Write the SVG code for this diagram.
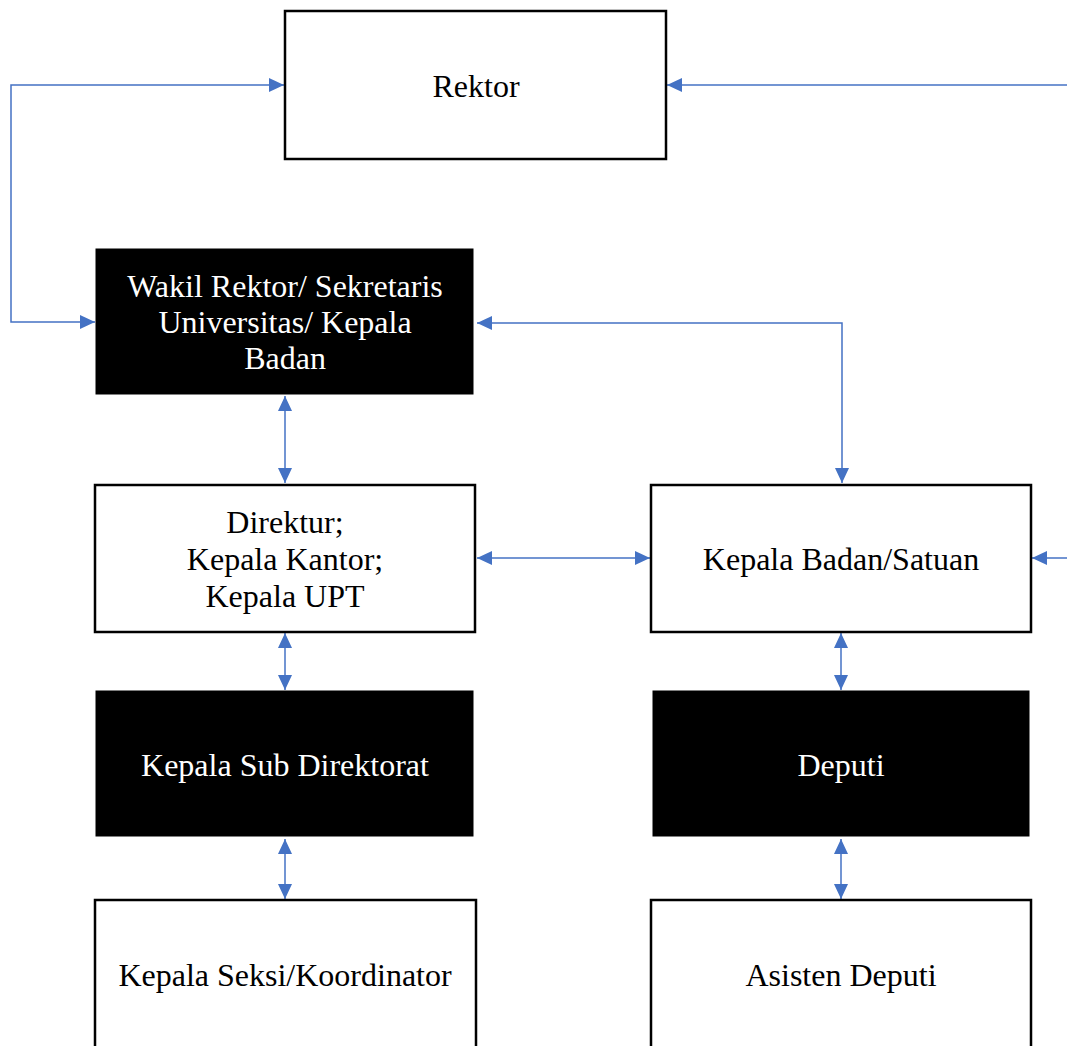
<svg xmlns="http://www.w3.org/2000/svg" width="1067" height="1046" viewBox="0 0 1067 1046">
<style>
.box{fill:#fff;stroke:#000;stroke-width:2.5}
.dark{fill:#000;stroke:#000;stroke-width:1}
.t{font-family:"Liberation Serif","Times New Roman",serif;font-size:32px;text-anchor:middle;fill:#000}
.tw{font-family:"Liberation Serif","Times New Roman",serif;font-size:32px;text-anchor:middle;fill:#fff}
.c{fill:none;stroke:#4472C4;stroke-width:1.5}
</style>
<defs>
<marker id="ah" markerWidth="15" markerHeight="14" refX="15" refY="7" orient="auto-start-reverse" markerUnits="userSpaceOnUse">
<path d="M0,0 L15,7 L0,14 Z" fill="#4472C4"/>
</marker>
</defs>
<rect width="1067" height="1046" fill="#fff"/>
<g id="connectors">
<path class="c" d="M284,85 H11 V322 H95" marker-start="url(#ah)" marker-end="url(#ah)"/>
<path class="c" d="M1067,85 H667" marker-end="url(#ah)"/>
<path class="c" d="M477,323 H842 V483" marker-start="url(#ah)" marker-end="url(#ah)"/>
<path class="c" d="M477,558 H650" marker-start="url(#ah)" marker-end="url(#ah)"/>
<path class="c" d="M1067,558 H1032" marker-end="url(#ah)"/>
<path class="c" d="M285,396 V483" marker-start="url(#ah)" marker-end="url(#ah)"/>
<path class="c" d="M285,633 V690" marker-start="url(#ah)" marker-end="url(#ah)"/>
<path class="c" d="M285,839 V899" marker-start="url(#ah)" marker-end="url(#ah)"/>
<path class="c" d="M841,633 V690" marker-start="url(#ah)" marker-end="url(#ah)"/>
<path class="c" d="M841,839 V899" marker-start="url(#ah)" marker-end="url(#ah)"/>
</g>
<g id="rektor">
<rect class="box" x="285" y="11" width="381" height="148"/>
<text class="t" x="476" y="97">Rektor</text>
</g>
<g id="wakil-rektor">
<rect class="dark" x="96" y="249" width="377" height="145"/>
<text class="tw" x="285" y="297">Wakil Rektor/ Sekretaris</text>
<text class="tw" x="285" y="333">Universitas/ Kepala</text>
<text class="tw" x="285" y="369">Badan</text>
</g>
<g id="direktur">
<rect class="box" x="95" y="485" width="380" height="147"/>
<text class="t" x="285" y="533">Direktur;</text>
<text class="t" x="285" y="570">Kepala Kantor;</text>
<text class="t" x="285" y="607">Kepala UPT</text>
</g>
<g id="kepala-badan">
<rect class="box" x="651" y="485" width="380" height="147"/>
<text class="t" x="841" y="570">Kepala Badan/Satuan</text>
</g>
<g id="kepala-sub-direktorat">
<rect class="dark" x="96" y="691" width="377" height="145"/>
<text class="tw" x="285" y="776">Kepala Sub Direktorat</text>
</g>
<g id="deputi">
<rect class="dark" x="653" y="691" width="376" height="145"/>
<text class="tw" x="841" y="776">Deputi</text>
</g>
<g id="kepala-seksi">
<rect class="box" x="95" y="900" width="381" height="160"/>
<text class="t" x="285" y="986">Kepala Seksi/Koordinator</text>
</g>
<g id="asisten-deputi">
<rect class="box" x="651" y="900" width="380" height="160"/>
<text class="t" x="841" y="986">Asisten Deputi</text>
</g>
</svg>
